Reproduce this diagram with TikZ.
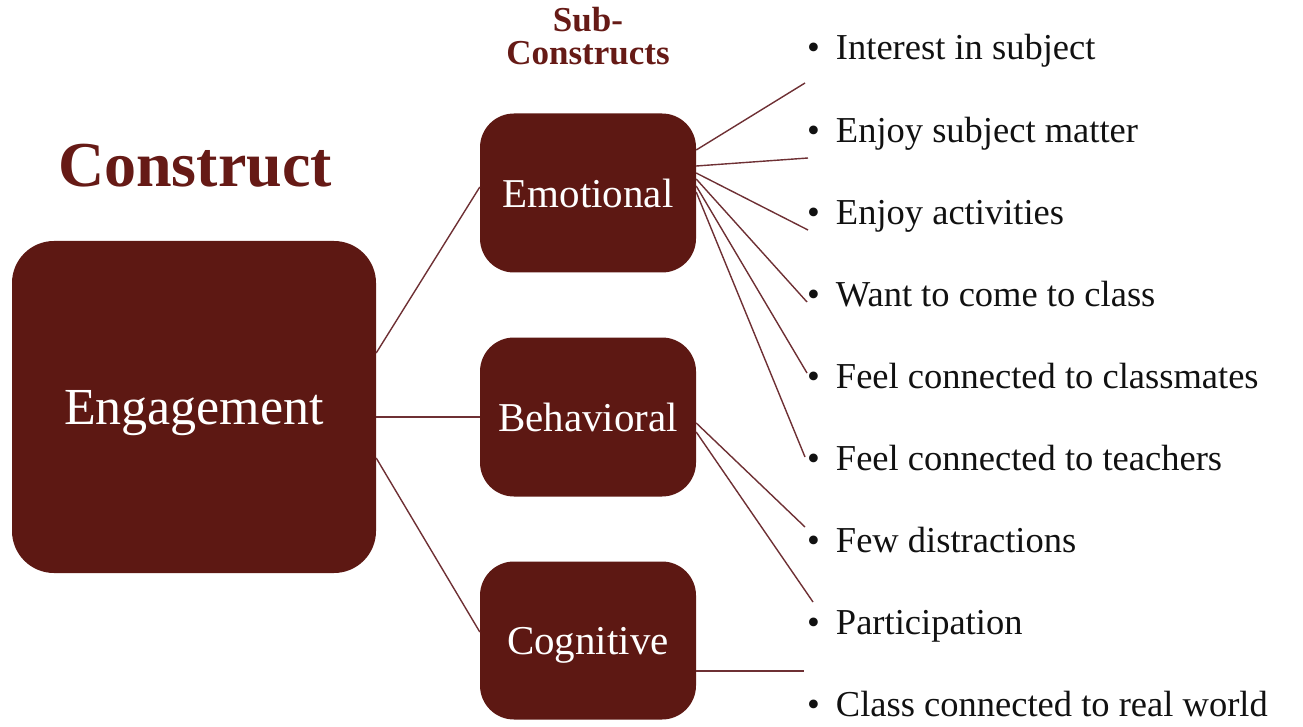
\documentclass[tikz,border=0pt]{standalone}
\usepackage{fontspec}
\setmainfont{Liberation Serif}
\usetikzlibrary{calc}
\definecolor{maroon}{HTML}{5D1813}
\definecolor{titlered}{HTML}{661A16}
\definecolor{linkred}{HTML}{6E3034}
\definecolor{itemblack}{HTML}{111111}
\begin{document}
\begin{tikzpicture}[x=1pt,y=-1pt,
  box/.style={fill=maroon,draw=none,rounded corners=34pt,inner sep=0pt,
    text=white,text depth=0pt,font=\fontsize{41}{41}\selectfont},
  link/.style={draw=linkred,line width=1.4pt},
  item/.style={anchor=base west,inner sep=0pt,text=itemblack,
    font=\fontsize{36.5}{36.5}\selectfont},
  heading/.style={text=titlered,inner sep=0pt,font=\bfseries}]
\useasboundingbox (0,0) rectangle (1303,727);

% headings
\node[heading,anchor=base,font=\bfseries\fontsize{64}{64}\selectfont] (construct) at (195,187) {Construct};
\node[heading,anchor=base,align=center,font=\bfseries\fontsize{35}{33}\selectfont] (sub) at (588,65) {Sub-\\Constructs};

% construct and sub-construct boxes
\node[box,minimum width=364pt,minimum height=332pt,rounded corners=42pt,
  font=\fontsize{52}{52}\selectfont] (eng) at (194,407) {Engagement};
\node[box,minimum width=216pt,minimum height=159pt] (emo) at (588,193) {Emotional};
\node[box,minimum width=216pt,minimum height=159pt] (beh) at (588,417) {Behavioral};
\node[box,minimum width=216pt,minimum height=158pt] (cog) at (588,640.5) {Cognitive};

% indicator list
\foreach \txt [count=\i from 0] in {Interest in subject,Enjoy subject matter,
  Enjoy activities,Want to come to class,Feel connected to classmates,
  Feel connected to teachers,Few distractions,Participation,
  Class connected to real world}
  \node[item] (it\i) at (807,{60+82.1*\i}) {\textbullet\hspace{16pt}\txt};

% free ends of the indicator connectors
\coordinate (t1) at (805,83);
\coordinate (t2) at (808,158);
\coordinate (t3) at (808,230);
\coordinate (t4) at (807,302);
\coordinate (t5) at (807,373);
\coordinate (t6) at (805,457);
\coordinate (t7) at (805,527);
\coordinate (t8) at (813,602);
\coordinate (t9) at (804,671);

% construct to sub-constructs
\draw[link] ([yshift=54pt]eng.east) -- ([yshift=6pt]emo.west);
\draw[link] ([yshift=-10pt]eng.east) -- (beh.west);
\draw[link] ([yshift=-51pt]eng.east) -- ([yshift=8.5pt]cog.west);

% sub-constructs to indicators
\draw[link] ([yshift=43pt]emo.east) -- (t1);
\draw[link] ([yshift=27pt]emo.east) -- (t2);
\draw[link] ([yshift=20pt]emo.east) -- (t3);
\draw[link] ([yshift=14pt]emo.east) -- (t4);
\draw[link] ([yshift=7pt]emo.east) -- (t5);
\draw[link] ([yshift=1pt]emo.east) -- (t6);
\draw[link] ([yshift=-6pt]beh.east) -- (t7);
\draw[link] ([yshift=-15pt]beh.east) -- (t8);
\draw[link] ([yshift=-30.5pt]cog.east) -- (t9);
\end{tikzpicture}
\end{document}
